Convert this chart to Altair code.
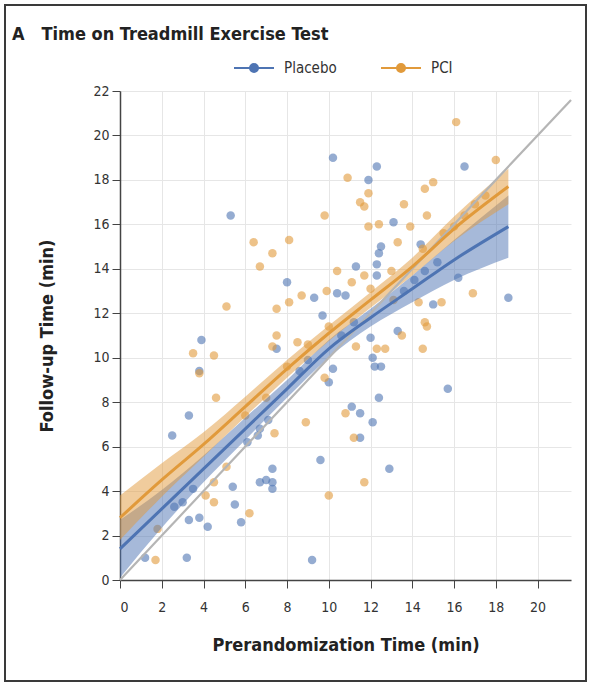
import altair as alt
import pandas as pd

# ---------------- data ----------------
groups = ["Placebo", "PCI"]

placebo_x = [5.3, 10.2, 11.9, 12.3, 16.5, 18.6, 15.7, 9.2, 3.2, 1.2,
             3.3, 3.8, 4.2, 5.8, 5.5, 5.4, 6.7, 7.3, 7.3, 7.3,
             6.7, 6.6, 3.3, 2.5, 3.9, 3.8, 7.5, 2.6, 3.0, 3.5,
             9.6, 7.0, 12.0, 12.1, 12.5, 12.2, 10.2, 10.0, 12.4, 11.1,
             11.5, 12.1, 11.5, 12.9, 8.0, 9.3, 13.1, 14.4, 12.4, 12.3,
             11.3, 16.2, 15.0, 13.3, 9.7, 10.4, 10.8, 12.3, 12.5,
             8.6, 9.0, 10.6, 11.2, 13.6, 14.1, 14.6, 15.2, 6.1, 7.1]
placebo_y = [16.4, 19.0, 18.0, 18.6, 18.6, 12.7, 8.6, 0.9, 1.0, 1.0,
             2.7, 2.8, 2.4, 2.6, 3.4, 4.2, 4.4, 5.0, 4.4, 4.1,
             6.8, 6.5, 7.4, 6.5, 10.8, 9.4, 10.4, 3.3, 3.5, 4.1,
             5.4, 4.5, 10.9, 10.0, 9.6, 9.6, 9.5, 8.9, 8.2, 7.8,
             7.5, 7.1, 6.4, 5.0, 13.4, 12.7, 16.1, 15.1, 14.7, 14.2,
             14.1, 13.6, 12.4, 11.2, 11.9, 12.9, 12.8, 13.7, 15.0,
             9.4, 9.9, 11.0, 11.6, 13.0, 13.5, 13.9, 14.3, 6.2, 7.2]

pci_x = [16.1, 18.0, 10.9, 11.9, 11.5, 11.7, 9.8, 11.9, 12.4, 15.0,
         14.6, 13.6, 14.7, 13.9, 13.3, 6.4, 8.1, 7.3, 6.7, 10.4,
         5.1, 7.5, 8.1, 8.7, 7.5, 7.3, 9.9, 11.1, 11.7, 13.1,
         8.5, 11.3, 12.3, 12.7, 14.5, 13.5, 14.6, 14.3, 15.4, 16.9,
         14.7, 9.8, 8.9, 10.8, 11.2, 10.0, 11.7, 7.4, 3.5, 4.5,
         3.8, 4.6, 4.1, 4.5, 6.2, 1.7, 5.1, 4.5, 1.8,
         9.0, 10.0, 12.0, 13.0, 14.5, 15.5, 16.0, 16.5, 17.0, 17.5,
         6.0, 7.0, 8.0]
pci_y = [20.6, 18.9, 18.1, 17.4, 17.0, 16.8, 16.4, 15.9, 16.0, 17.9,
         17.6, 16.9, 16.4, 15.9, 15.2, 15.2, 15.3, 14.7, 14.1, 13.9,
         12.3, 12.2, 12.5, 12.8, 11.0, 10.5, 13.0, 13.4, 13.7, 12.6,
         10.7, 10.5, 10.4, 10.4, 10.4, 11.0, 11.6, 12.5, 12.5, 12.9,
         11.4, 9.1, 7.1, 7.5, 6.4, 3.8, 4.4, 6.6, 10.2, 10.1,
         9.3, 8.2, 3.8, 3.5, 3.0, 0.9, 5.1, 4.4, 2.3,
         10.6, 11.4, 13.1, 13.9, 14.9, 15.6, 15.9, 16.4, 16.9, 17.3,
         7.4, 8.2, 9.6]

fit_x = [0, 2, 4, 6, 8, 10, 12, 14, 16, 18.6]
placebo_fit = [1.4, 3.2, 5.0, 6.8, 8.6, 10.4, 11.8, 13.1, 14.4, 15.9]
placebo_lo = [0.1, 2.35, 4.4, 6.3, 8.2, 10.0, 11.4, 12.5, 13.5, 14.5]
placebo_hi = [2.7, 4.05, 5.6, 7.3, 9.0, 10.8, 12.2, 13.7, 15.3, 17.3]
pci_fit = [2.8, 4.5, 6.1, 7.8, 9.5, 11.1, 12.6, 14.1, 15.8, 17.7]
pci_lo = [1.8, 3.75, 5.55, 7.35, 9.1, 10.75, 12.25, 13.7, 15.25, 16.9]
pci_hi = [3.8, 5.25, 6.65, 8.25, 9.9, 11.45, 12.95, 14.5, 16.35, 18.5]

identity = [0, 21.6]

x_ticks = [0, 2, 4, 6, 8, 10, 12, 14, 16, 18, 20]
y_ticks = [0, 2, 4, 6, 8, 10, 12, 14, 16, 18, 20, 22]

# ---------------- tables ----------------
pts = pd.concat([
    pd.DataFrame({"x": placebo_x, "y": placebo_y, "group": "Placebo"}),
    pd.DataFrame({"x": pci_x, "y": pci_y, "group": "PCI"}),
])
fits = pd.concat([
    pd.DataFrame({"x": fit_x, "fit": placebo_fit, "lo": placebo_lo, "hi": placebo_hi, "group": "Placebo"}),
    pd.DataFrame({"x": fit_x, "fit": pci_fit, "lo": pci_lo, "hi": pci_hi, "group": "PCI"}),
])
ident = pd.DataFrame({"x": identity, "y": identity})

FONT = "'DejaVu Sans Condensed', 'Liberation Sans Narrow', 'DejaVu Sans', sans-serif"
BLUE = "#4e74b3"
ORANGE = "#e19a3b"

xscale = alt.Scale(domain=[0, 21.6], nice=False, zero=False)
yscale = alt.Scale(domain=[0, 22], nice=False)
cscale = alt.Scale(domain=groups, range=[BLUE, ORANGE])

legend = alt.Legend(
    title=None, orient="none", direction="horizontal",
    legendX=113, legendY=-44,
    symbolType="M-1,0L1,0M-0.2,0A0.2,0.2,0,1,1,0.2,0A0.2,0.2,0,1,1,-0.2,0Z",
    symbolSize=1600, symbolStrokeWidth=2, symbolOpacity=1,
    labelFontSize=15, labelFont=FONT, labelColor="#333333", labelOffset=9,
    columnPadding=40,
)

xenc = alt.X("x:Q", scale=xscale,
             axis=alt.Axis(values=x_ticks, title="Prerandomization Time (min)", format="d"))

scatter = alt.Chart(pts).mark_circle(size=72, opacity=0.6, strokeWidth=0).encode(
    x=xenc,
    y=alt.Y("y:Q", scale=yscale,
            axis=alt.Axis(values=y_ticks, title="Follow-up Time (min)", format="d")),
    color=alt.Color("group:N", scale=cscale, legend=legend),
    stroke=alt.Stroke("group:N", scale=cscale, legend=legend),
)

bands = alt.Chart(fits).mark_area(opacity=0.5, interpolate="monotone").encode(
    x=alt.X("x:Q", scale=xscale),
    y=alt.Y("lo:Q", scale=yscale),
    y2="hi:Q",
    color=alt.Color("group:N", scale=cscale, legend=legend),
)

ident_line = alt.Chart(ident).mark_line(color="#b5b5b5", strokeWidth=2.2).encode(
    x=alt.X("x:Q", scale=xscale),
    y=alt.Y("y:Q", scale=yscale),
)

fit_lines = alt.Chart(fits).mark_line(strokeWidth=3, interpolate="monotone").encode(
    x=alt.X("x:Q", scale=xscale),
    y=alt.Y("fit:Q", scale=yscale),
    color=alt.Color("group:N", scale=cscale, legend=legend),
)

frame = alt.Chart(pd.DataFrame({"k": [0]})).mark_rect(
    fillOpacity=0, stroke="#3a3a3a", strokeWidth=2
).encode(x=alt.value(-115), x2=alt.value(466), y=alt.value(-86), y2=alt.value(590))

chart = alt.layer(scatter, bands, ident_line, fit_lines, frame).properties(
    width=451, height=489,
    autosize=alt.AutoSizeParams(type="none"),
    padding={"left": 120, "top": 91, "right": 18, "bottom": 104},
    title=alt.TitleParams(
        text="A\u00a0\u00a0\u00a0Time on Treadmill Exercise Test", anchor="start", frame="group",
        dx=-108, dy=44, fontSize=18, fontWeight="bold", font=FONT, color="#222222",
        offset=4,
    ),
).configure_view(stroke=None).configure_axis(
    labelFont=FONT, labelFontSize=14, labelColor="#333333",
    titleFont=FONT, titleFontWeight="bold", titleColor="#222222",
    domainColor="#444444", domainWidth=1.5, tickColor="#444444", tickSize=8,
    gridColor="#e6e6e6", gridWidth=1,
).configure_axisX(titlePadding=22, labelPadding=12, titleFontSize=18).configure_axisY(
    titlePadding=36, labelPadding=3, titleFontSize=18)

chart.save("out.html", embed_options={"renderer": "svg", "actions": False})
